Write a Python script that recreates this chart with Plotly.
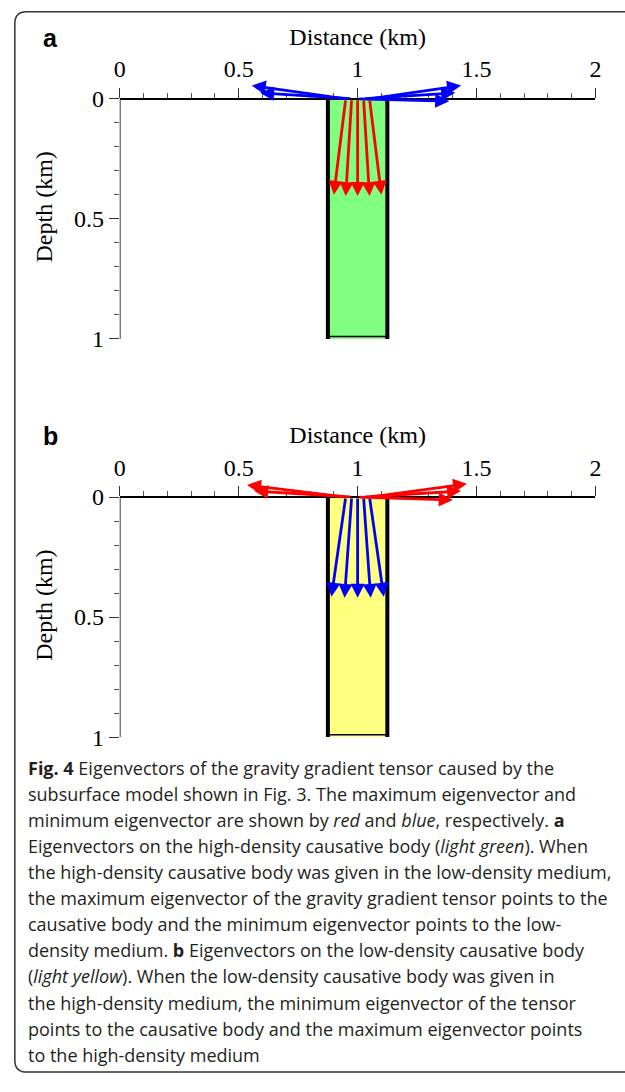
import plotly.graph_objects as go

W, H = 625, 1092

# ---------------- data ----------------
x_ticks = [0, 0.5, 1, 1.5, 2]
x_tick_text = ["0", "0.5", "1", "1.5", "2"]
x_minor = [0.1, 0.2, 0.3, 0.4, 0.6, 0.7, 0.8, 0.9, 1.1, 1.2, 1.3, 1.4, 1.6, 1.7, 1.8, 1.9]
y_ticks = [0, 0.5, 1]
y_tick_text = ["0", "0.5", "1"]
y_minor = [0.1, 0.2, 0.3, 0.4, 0.6, 0.7, 0.8, 0.9]

body_x = [0.875, 1.125]      # causative body horizontal extent (km)
body_depth = [0.0, 1.0]      # causative body top / bottom (km)

obs_x = [0.95, 0.975, 1.0, 1.025, 1.05]   # arrow tails on the surface
obs_depth = [0.0, 0.0, 0.0, 0.0, 0.0]

# panel a : max eigenvector (red) heads, min eigenvector (blue) heads
a_max_x = [0.90, 0.95, 1.00, 1.05, 1.10]
a_max_d = [0.40, 0.405, 0.405, 0.405, 0.40]
a_min_x = [0.555, 0.59, 1.385, 1.41, 1.435]
a_min_d = [-0.055, -0.025, 0.01, -0.025, -0.055]

# panel b : min eigenvector (blue) heads, max eigenvector (red) heads
b_min_x = [0.89, 0.945, 1.00, 1.055, 1.11]
b_min_d = [0.415, 0.42, 0.42, 0.42, 0.415]
b_max_x = [0.535, 0.565, 1.40, 1.435, 1.46]
b_max_d = [-0.05, -0.025, 0.012, -0.025, -0.055]

caption_lines = [
    "<b>Fig. 4</b> Eigenvectors of the gravity gradient tensor caused by the",
    "subsurface model shown in Fig. 3. The maximum eigenvector and",
    "minimum eigenvector are shown by <i>red</i> and <i>blue</i>, respectively. <b>a</b>",
    "Eigenvectors on the high-density causative body (<i>light green</i>). When",
    "the high-density causative body was given in the low-density medium,",
    "the maximum eigenvector of the gravity gradient tensor points to the",
    "causative body and the minimum eigenvector points to the low-",
    "density medium. <b>b</b> Eigenvectors on the low-density causative body",
    "(<i>light yellow</i>). When the low-density causative body was given in",
    "the high-density medium, the minimum eigenvector of the tensor",
    "points to the causative body and the maximum eigenvector points",
    "to the high-density medium",
]

RED = "#ff0000"
BLUE = "#0000ff"
GREEN = "#80ff80"
YELLOW = "#ffff80"

# ---------------- layout geometry (pixels) ----------------
x_px0, x_px1 = 116, 601
panels = [
    dict(label="a", axis_px=100, fill=GREEN,
         arrows=[(a_max_x, a_max_d, RED), (a_min_x, a_min_d, BLUE)]),
    dict(label="b", axis_px=503, fill=YELLOW,
         arrows=[(b_min_x, b_min_d, BLUE), (b_max_x, b_max_d, RED)]),
]
px_per_km = 243.0
y_top_ext = -0.1

serif = "Liberation Serif"
tickfont = dict(family=serif, size=24, color="black")

fig = go.Figure()
annotations = []
shapes = []

for i, p in enumerate(panels):
    sfx = "" if i == 0 else str(i + 1)
    xa, ya = "x" + sfx, "y" + sfx
    top_px = p["axis_px"] + y_top_ext * px_per_km
    bot_px = p["axis_px"] + 1.0 * px_per_km
    ydom = [1 - bot_px / H, 1 - top_px / H]

    # causative body fill
    fig.add_trace(go.Scatter(
        x=[body_x[0], body_x[0], body_x[1], body_x[1], body_x[0]],
        y=[body_depth[0], body_depth[1], body_depth[1], body_depth[0], body_depth[0]],
        mode="lines", fill="toself", fillcolor=p["fill"], line=dict(width=0),
        xaxis=xa, yaxis=ya, showlegend=False, hoverinfo="skip"))
    # thick sides
    for bx in body_x:
        fig.add_trace(go.Scatter(
            x=[bx, bx], y=[body_depth[0], body_depth[1] + 0.01], mode="lines",
            line=dict(color="black", width=4), xaxis=xa, yaxis=ya,
            showlegend=False, hoverinfo="skip"))
    # thin bottom
    fig.add_trace(go.Scatter(
        x=[body_x[0], body_x[1]], y=[body_depth[1] - 0.01, body_depth[1] - 0.01],
        mode="lines", line=dict(color="black", width=1.5), xaxis=xa, yaxis=ya,
        showlegend=False, hoverinfo="skip"))

    xaxis = dict(
        domain=[x_px0 / W, x_px1 / W], range=[0, 2], side="top",
        anchor="free", position=1 - p["axis_px"] / H,
        showline=True, linecolor="black", linewidth=1.5,
        ticks="outside", ticklen=10, tickwidth=1, tickcolor="#333",
        tickvals=x_ticks, ticktext=x_tick_text, tickfont=tickfont,
        ticklabelstandoff=1,
        minor=dict(tickvals=x_minor, ticks="outside", ticklen=5, tickwidth=1, tickcolor="#555"),
        showgrid=False, zeroline=False,
        title=dict(text="Distance (km)", font=tickfont, standoff=3),
    )
    yaxis = dict(
        domain=ydom, range=[1, y_top_ext], anchor=xa,
        showline=False, ticks="outside", ticklen=10, tickwidth=1, tickcolor="#333",
        tickvals=y_ticks, ticktext=y_tick_text, tickfont=tickfont,
        minor=dict(tickvals=y_minor, ticks="outside", ticklen=5, tickwidth=1, tickcolor="#555"),
        showgrid=False, zeroline=False,
        title=dict(text="Depth (km)", font=tickfont, standoff=14),
    )
    fig.update_layout(**{"xaxis" + sfx: xaxis, "yaxis" + sfx: yaxis})

    # left axis line from depth 0 to 1
    shapes.append(dict(type="line", xref=xa, yref=ya, x0=0, x1=0,
                       y0=body_depth[0], y1=body_depth[1],
                       line=dict(color="black", width=1.5)))

    # arrows
    for hx_list, hd_list, col in p["arrows"]:
        for tx, td, hx, hd in zip(obs_x, obs_depth, hx_list, hd_list):
            annotations.append(dict(
                x=hx, y=hd, ax=tx, ay=td, xref=xa, yref=ya, axref=xa, ayref=ya,
                text="", showarrow=True, arrowhead=2, arrowsize=1.0,
                arrowwidth=2.8, arrowcolor=col, standoff=0, startstandoff=0))

    # panel label
    annotations.append(dict(
        text="<b>" + p["label"] + "</b>", xref="paper", yref="paper",
        x=45 / W, y=1 - (p["axis_px"] - 62) / H, xanchor="center", yanchor="middle",
        showarrow=False, font=dict(family="Liberation Sans", size=25, color="black")))

# caption
cap_y0, cap_dy = 777, 26.4
for k, line in enumerate(caption_lines):
    annotations.append(dict(
        text=line, xref="paper", yref="paper", x=20 / W, y=1 - (cap_y0 + k * cap_dy) / H,
        xanchor="left", yanchor="middle", showarrow=False,
        font=dict(family="Open Sans", size=18, color="#231f20")))

# rounded frame (right side runs off the page)
L, T, R, B, r = 9, 12, 640, 1085, 12
def fx(v): return v / W
def fy(v): return 1 - v / H
path = (f"M {fx(R)},{fy(T)} L {fx(L + r)},{fy(T)} Q {fx(L)},{fy(T)} {fx(L)},{fy(T + r)} "
        f"L {fx(L)},{fy(B - r)} Q {fx(L)},{fy(B)} {fx(L + r)},{fy(B)} L {fx(R)},{fy(B)}")
shapes.append(dict(type="path", xref="paper", yref="paper", path=path,
                   line=dict(color="#333", width=1.5)))

fig.update_layout(
    width=W, height=H, margin=dict(l=0, r=0, t=0, b=0),
    paper_bgcolor="white", plot_bgcolor="rgba(0,0,0,0)",
    showlegend=False, annotations=annotations, shapes=shapes,
)

fig.write_html(
    "out.html",
    config={"displayModeBar": False},
    post_script="document.body.style.margin='0';document.body.style.overflow='hidden';",
)
